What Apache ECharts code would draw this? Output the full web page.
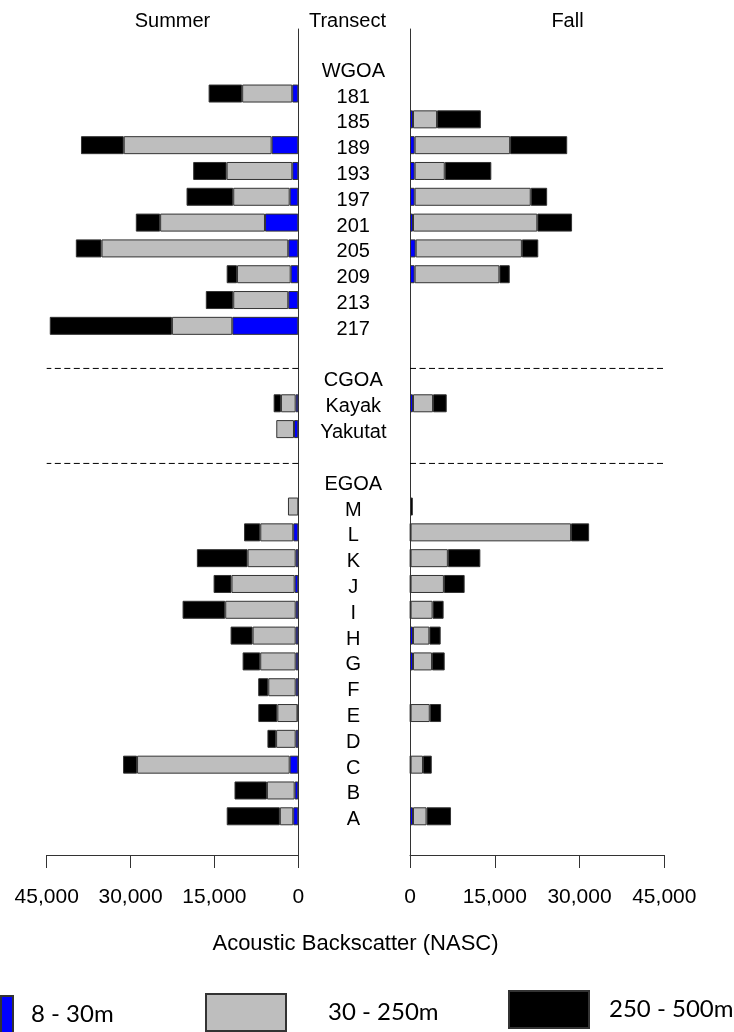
<!DOCTYPE html>
<html>
<head>
<meta charset="utf-8">
<script src="https://cdn.jsdelivr.net/npm/echarts@6/dist/echarts.min.js"></script>
<style>html,body{margin:0;padding:0;background:#fff}#chart{width:734px;height:1032px}</style>
</head>
<body>
<div id="chart"></div>
<script>
// Row labels of the centre "Transect" column (blank strings are spacer rows)
const rowLabels = [' ', 'WGOA', '181', '185', '189', '193', '197', '201', '205', '209', '213', '217', '  ',
  'CGOA', 'Kayak', 'Yakutat', '   ', 'EGOA', 'M', 'L', 'K', 'J', 'I', 'H', 'G', 'F', 'E', 'D', 'C', 'B', 'A', '    '];

const transects = ['181', '185', '189', '193', '197', '201', '205', '209', '213', '217', 'Kayak', 'Yakutat',
  'M', 'L', 'K', 'J', 'I', 'H', 'G', 'F', 'E', 'D', 'C', 'B', 'A'];

// Summer NASC by depth layer
const summerShallow = [1080, null, 4770, 1070, 1540, 5960, 1790, 1360, 1790, 11800, 470, 770,
  null, 900, 470, 650, 470, 470, 470, 470, 150, 470, 1540, 650, 900];
const summerMid = [8960, null, 26450, 11750, 10100, 18750, 33400, 9600, 9850, 10800, 2630, 3170,
  1850, 5900, 8600, 11300, 12600, 7700, 6340, 4900, 3600, 3500, 27300, 4960, 2400];
const summerDeep = [6000, null, 7650, 5980, 8350, 4350, 4600, 1850, 4900, 21850, 1310, null,
  null, 2900, 9070, 3200, 7630, 3940, 3150, 1800, 3400, 1550, 2500, 5800, 9500];

// Fall NASC by depth layer
const fallShallow = [null, 530, 820, 820, 820, 530, 1000, 820, null, null, 530, null,
  null, 100, 100, 100, 100, 530, 530, null, 100, null, 100, null, 530];
const fallMid = [null, 4260, 16900, 5330, 20550, 22000, 18800, 15000, null, null, 3550, null,
  null, 28400, 6600, 5900, 3900, 2900, 3370, null, 3400, null, 2200, null, 2400];
const fallDeep = [null, 7750, 10100, 8240, 2900, 6150, 2900, 1830, null, null, 2420, null,
  500, 3200, 5750, 3670, 1950, 2000, 2240, null, 2000, null, 1550, null, 4330];

// Dashed separators between regions (row position, in row-index units)
const separatorRows = [12.65, 16.33];

const xTicks = { min: 0, max: 45000, interval: 15000 };
const layerNames = ['8 - 30m', '30 - 250m', '250 - 500m'];
const layerColors = ['#0000FF', '#BEBEBE', '#000000'];

function toRows(values) {
  return rowLabels.map(function (lab) {
    const i = transects.indexOf(lab);
    return i >= 0 ? values[i] : null;
  });
}

const font = 'Liberation Sans, Arial, sans-serif';
const axisColor = '#333';

function xAxis(gridIndex, inverse) {
  return {
    type: 'value', gridIndex: gridIndex, inverse: inverse,
    min: xTicks.min, max: xTicks.max, interval: xTicks.interval,
    splitLine: { show: false },
    axisLine: { show: true, onZero: false, lineStyle: { color: axisColor, width: 1 } },
    axisTick: { show: true, inside: false, length: 13, lineStyle: { color: axisColor } },
    axisLabel: {
      margin: 32, fontSize: 21, color: '#000', fontFamily: font,
      formatter: function (v) { return v.toLocaleString('en-US'); }
    }
  };
}

function catAxis(gridIndex, position, showLabels) {
  return {
    type: 'category', gridIndex: gridIndex, data: rowLabels, inverse: true, position: position,
    boundaryGap: true,
    axisLine: { show: true, onZero: false, lineStyle: { color: axisColor, width: 1 } },
    axisTick: { show: false },
    splitLine: { show: false },
    axisLabel: showLabels ? {
      show: true, interval: 0, margin: 55, align: 'center', verticalAlign: 'top',
      fontSize: 20, color: '#000', fontFamily: font, lineHeight: 7
    } : { show: false }
  };
}

function helperAxis(gridIndex) {
  return { type: 'value', gridIndex: gridIndex, min: -0.5, max: rowLabels.length - 0.5, inverse: true, show: false };
}

const series = [];
const summerLayers = [summerShallow, summerMid, summerDeep];
const fallLayers = [fallShallow, fallMid, fallDeep];
[summerLayers, fallLayers].forEach(function (layers, g) {
  layers.forEach(function (vals, k) {
    series.push({
      type: 'bar', name: layerNames[k], stack: g === 0 ? 'summer' : 'fall',
      xAxisIndex: g, yAxisIndex: g, barWidth: 18,
      itemStyle: { color: layerColors[k], borderColor: axisColor, borderWidth: 1 },
      data: toRows(vals), silent: true, animation: false
    });
  });
  separatorRows.forEach(function (r) {
    series.push({
      type: 'line', xAxisIndex: g, yAxisIndex: g + 2, symbol: 'none', silent: true, animation: false,
      lineStyle: { color: '#000', width: 1, type: [6, 3.5] },
      data: [[xTicks.min, r], [xTicks.max, r]]
    });
  });
});

function legend(idx, left, top, w, pad) {
  return {
    data: [layerNames[idx]], left: left, top: top, orient: 'horizontal', padding: 0,
    icon: 'rect', itemWidth: w, itemHeight: 37, selectedMode: false,
    textStyle: { fontSize: 24, color: '#000', fontFamily: 'Lato, sans-serif', padding: [0, 0, 0, pad] }
  };
}

function title(text, x, y, size) {
  return { text: text, left: x, top: y, textAlign: 'center', padding: 0,
    textStyle: { fontSize: size, fontWeight: 'normal', color: '#000', fontFamily: font } };
}

const chart = echarts.init(document.getElementById('chart'), null, { renderer: 'canvas' });
chart.setOption({
  animation: false,
  backgroundColor: '#fff',
  title: [
    title('Summer', 172.5, 11, 20),
    title('Transect', 347.5, 11, 20),
    title('Fall', 567.5, 11, 20),
    title('Acoustic Backscatter (NASC)', 355.5, 933, 22)
  ],
  legend: [
    legend(0, 0, 995, 12, 13),
    legend(1, 205, 993, 80, 37),
    legend(2, 508, 990, 80, 15)
  ],
  grid: [
    { left: 46.7, right: 734 - 298.3, top: 29, bottom: 177 },
    { left: 410, right: 734 - 664.3, top: 29, bottom: 177 }
  ],
  xAxis: [xAxis(0, true), xAxis(1, false)],
  yAxis: [catAxis(0, 'right', true), catAxis(1, 'left', false), helperAxis(0), helperAxis(1)],
  series: series
});
</script>
</body>
</html>
